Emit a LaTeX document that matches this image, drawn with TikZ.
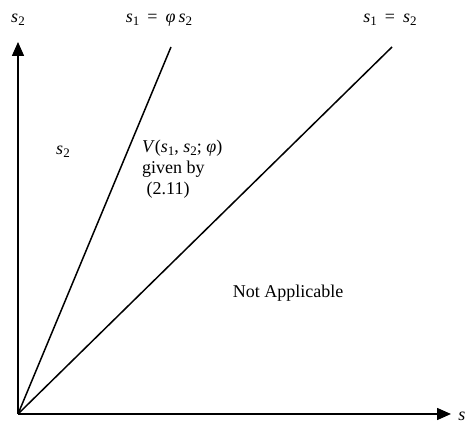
\documentclass[tikz,border=0pt]{standalone}
\usepackage{fontspec}
\setmainfont{Liberation Serif}
\usetikzlibrary{arrows.meta}
\newcommand{\mysub}[1]{\raisebox{-0.35ex}{\fontsize{13}{13}\selectfont\upshape #1}}
\newcommand{\vs}[1]{\textit{s}\mysub{#1}}
\begin{document}
\begin{tikzpicture}[x=1pt,y=-1pt,
  lbl/.style={inner sep=0pt,font=\fontsize{18}{21}\selectfont},
  axis/.style={line width=1.5pt,-{Triangle[length=14pt,width=12pt]}},
  ray/.style={line width=1.5pt}]
\useasboundingbox (0,0) rectangle (467,427);
\coordinate (O) at (18,414);
\coordinate (Ytop) at (18,42);
\coordinate (Xend) at (451,414);
\coordinate (A) at (171,47);
\coordinate (B) at (392,47);
\draw[axis] (O) -- (Ytop);
\draw[axis] (O) -- (Xend);
\draw[ray] (O) -- (A);
\draw[ray] (O) -- (B);
\node[lbl] (ylab) at (18,20) {\vs{2}};
\node[lbl] (xlab) at (462,416) {\textit{s}};
\node[lbl] (l1) at (159,20) {\vs{1}\hspace{0.45em}=\hspace{0.45em}\textit{φ}\,\vs{2}};
\node[lbl] (l2) at (390,20) {\vs{1}\hspace{0.45em}=\hspace{0.45em}\vs{2}};
\node[lbl] (s2) at (63,152) {\vs{2}};
\node[lbl,align=left,anchor=north west] (V) at (142,140) {\textit{V}(\vs{1}, \vs{2}; \textit{φ})\\given by\\\ (2.11)};
\node[lbl] (na) at (288,293) {Not Applicable};
\end{tikzpicture}
\end{document}
